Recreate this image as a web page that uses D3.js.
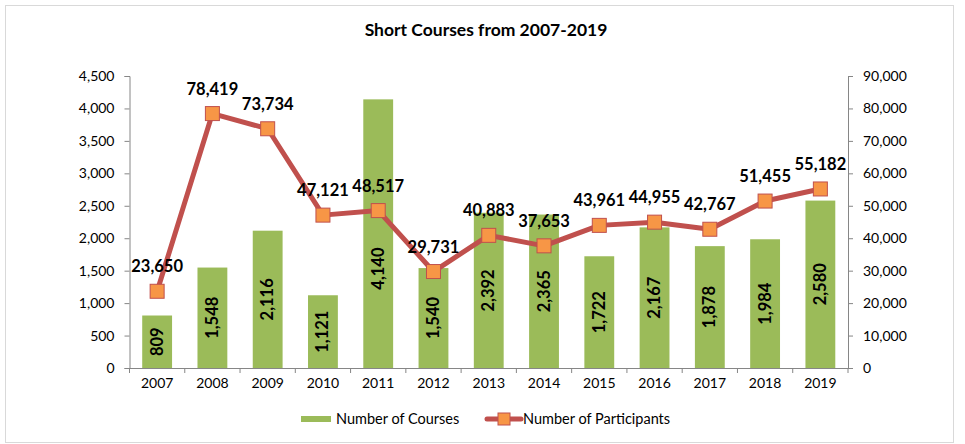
<!DOCTYPE html>
<html><head><meta charset="utf-8">
<script src="https://cdn.jsdelivr.net/npm/d3@7"></script>
<style>body{margin:0;background:#fff}svg{display:block;font-family:Lato,"Open Sans",sans-serif}</style>
</head><body>
<svg id="c" width="965" height="444"></svg>
<script>
const years = ["2007","2008","2009","2010","2011","2012","2013","2014","2015","2016","2017","2018","2019"];
const courses = [809,1548,2116,1121,4140,1540,2392,2365,1722,2167,1878,1984,2580];
const participants = [23650,78419,73734,47121,48517,29731,40883,37653,43961,44955,42767,51455,55182];
const leftTicks = [0,500,1000,1500,2000,2500,3000,3500,4000,4500];
const rightTicks = [0,10000,20000,30000,40000,50000,60000,70000,80000,90000];
const title = "Short Courses from 2007-2019";
const seriesNames = ["Number of Courses","Number of Participants"];

const svg = d3.select("#c");
const fmt = d3.format(",");
const axisCol = "#868686";

svg.append("rect").attr("x",5.5).attr("y",5.5).attr("width",948).attr("height",437)
  .attr("fill","#fff").attr("stroke","#d9d9d9");

svg.append("text").attr("x",486).attr("y",36).attr("text-anchor","middle")
  .attr("font-size",17.5).attr("font-weight","bold").text(title);

const x = d3.scaleBand().domain(years).range([129.5,848]).paddingInner(0.46).paddingOuter(0.23);
const xb = d3.scaleBand().domain(years).range([129.5,848]);
const yL = d3.scaleLinear().domain([0,4500]).range([368,76]);
const yR = d3.scaleLinear().domain([0,90000]).range([368,76]);

// bars
svg.append("g").selectAll("rect").data(courses).join("rect")
  .attr("x",(d,i)=>x(years[i])).attr("width",x.bandwidth())
  .attr("y",d=>yL(d)).attr("height",d=>yL(0)-yL(d)).attr("fill","#9BBB59");

// axes
const gL = svg.append("g").attr("transform","translate(129.5,0)")
  .call(d3.axisLeft(yL).tickValues(leftTicks).tickFormat(fmt).tickSize(5).tickPadding(10));
const gR = svg.append("g").attr("transform","translate(848,0)")
  .call(d3.axisRight(yR).tickValues(rightTicks).tickFormat(fmt).tickSize(5).tickPadding(10));
const gX = svg.append("g").attr("transform","translate(0,368)")
  .call(d3.axisBottom(xb).tickSize(0).tickPadding(10));
[gL,gR,gX].forEach(g=>{
  g.selectAll("path,line").attr("stroke",axisCol);
  g.selectAll("text").attr("font-size",14).attr("fill","#000").attr("font-family","Lato,'Open Sans',sans-serif");
});
gX.select(".domain").attr("d","M129.5,0.5H848");
svg.append("g").selectAll("line").data(years.concat(["end"])).join("line")
  .attr("x1",(d,i)=>129.5+i*xb.step()).attr("x2",(d,i)=>129.5+i*xb.step())
  .attr("y1",368).attr("y2",373).attr("stroke",axisCol);

// bar labels (centered; pushed below the line marker if they would collide)
const barLabelY = (d,i)=>{
  const c = (yL(d)+yL(0))/2, half = 24, m = yR(participants[i]);
  return (c-half < m+12 && c+half > m-12) ? m+34+half : c;
};
svg.append("g").selectAll("text").data(courses).join("text")
  .attr("transform",(d,i)=>`translate(${x(years[i])+x.bandwidth()/2+5.5},${barLabelY(d,i)}) rotate(-90)`)
  .attr("text-anchor","middle").attr("font-size",16.5).attr("font-weight","bold").text(d=>fmt(d));

// line
const cx = (d,i)=>xb(years[i])+xb.bandwidth()/2;
svg.append("path").datum(participants)
  .attr("d",d3.line().x(cx).y(d=>yR(d)))
  .attr("fill","none").attr("stroke","#C0504D").attr("stroke-width",5).attr("stroke-linejoin","round");
svg.append("g").selectAll("rect").data(participants).join("rect")
  .attr("x",(d,i)=>cx(d,i)-7).attr("y",d=>yR(d)-7).attr("width",14).attr("height",14)
  .attr("fill","#F79646").attr("stroke","#C0504D").attr("stroke-width",1);
svg.append("g").selectAll("text").data(participants).join("text")
  .attr("x",cx).attr("y",d=>yR(d)-19).attr("text-anchor","middle")
  .attr("font-size",16.5).attr("font-weight","bold").text(d=>fmt(d));

// legend
const lg = svg.append("g");
lg.append("rect").attr("x",301).attr("y",416).attr("width",30).attr("height",6).attr("fill","#9BBB59");
lg.append("text").attr("x",336).attr("y",424).attr("font-size",14.5).text(seriesNames[0]);
lg.append("line").attr("x1",487).attr("x2",521).attr("y1",419).attr("y2",419).attr("stroke","#C0504D").attr("stroke-width",5).attr("stroke-linecap","round");
lg.append("rect").attr("x",498).attr("y",413).attr("width",12).attr("height",12).attr("fill","#F79646").attr("stroke","#C0504D");
lg.append("text").attr("x",523).attr("y",424).attr("font-size",14.5).text(seriesNames[1]);
</script>
</body></html>
